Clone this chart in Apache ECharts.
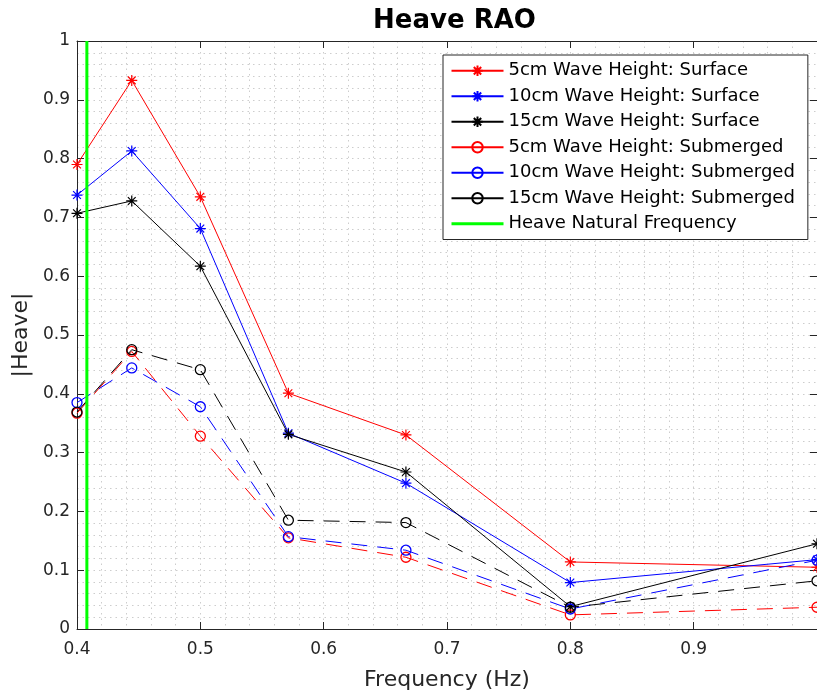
<!DOCTYPE html>
<html>
<head>
<meta charset="UTF-8">
<title>Heave RAO</title>
<script src="https://cdn.jsdelivr.net/npm/echarts@6/dist/echarts.min.js"></script>
<style>
  body { margin: 0; background: #fff; }
  #root { width: 817px; height: 698px; }
</style>
</head>
<body>
<div id="root"></div>
<script>
// frequencies (Hz) of the test runs
var freq = [0.4, 0.4444, 0.5, 0.5714, 0.6667, 0.8, 1.0];

// |Heave|
var surf5  = [0.790, 0.933, 0.735, 0.401, 0.330, 0.114, 0.105];
var surf10 = [0.738, 0.813, 0.681, 0.333, 0.248, 0.079, 0.118];
var surf15 = [0.707, 0.728, 0.617, 0.331, 0.267, 0.038, 0.145];
var sub5   = [0.367, 0.472, 0.328, 0.155, 0.122, 0.024, 0.037];
var sub10  = [0.385, 0.444, 0.378, 0.157, 0.134, 0.034, 0.117];
var sub15  = [0.369, 0.475, 0.441, 0.185, 0.181, 0.037, 0.082];

var natFreq = 0.408;

var names = [
  '5cm Wave Height: Surface',
  '10cm Wave Height: Surface',
  '15cm Wave Height: Surface',
  '5cm Wave Height: Submerged',
  '10cm Wave Height: Submerged',
  '15cm Wave Height: Submerged',
  'Heave Natural Frequency'
];

// matlab style '*' marker
var star = 'path://M6 0L6 12M0 6L12 6M1.76 1.76L10.24 10.24M10.24 1.76L1.76 10.24';

function pairs(ys) {
  return freq.map(function (f, i) { return [f, ys[i]]; });
}

function surface(name, ys, c) {
  return {
    name: name, type: 'line', data: pairs(ys),
    symbol: star, symbolSize: 11,
    itemStyle: { color: c, borderColor: c, borderWidth: 1.2 },
    lineStyle: { color: c, width: 1 },
    emphasis: { disabled: true }
  };
}

function submerged(name, ys, c) {
  return {
    name: name, type: 'line', data: pairs(ys),
    symbol: 'circle', symbolSize: 10,
    itemStyle: { color: 'rgba(0,0,0,0)', borderColor: c, borderWidth: 1.3 },
    lineStyle: { color: c, width: 1, type: [16, 10] },
    emphasis: { disabled: true }
  };
}

var axisCol = '#262626';
var gridLine = { show: true, lineStyle: { color: '#cdcdcd', type: [1.5, 4], width: 1 } };

var legendData = names.map(function (n, i) {
  // the green line has no marker in its legend entry
  return i === 6 ? { name: n, itemStyle: { opacity: 0 }, lineStyle: { width: 3 } } : n;
});

var chart = echarts.init(document.getElementById('root'));

chart.setOption({
  animation: false,
  textStyle: { fontFamily: 'DejaVu Sans' },
  title: {
    text: 'Heave RAO',
    left: 449.5, top: 3, textAlign: 'center',
    textStyle: { fontSize: 26, fontWeight: 'bold', color: '#000' }
  },
  grid: { left: 77, top: 41, width: 744, height: 588 },
  legend: {
    data: legendData,
    orient: 'vertical',
    left: 443, top: 55,
    itemWidth: 52, itemHeight: 13, itemGap: 6,
    padding: [6, 13, 6, 7],
    borderColor: axisCol, borderWidth: 1,
    backgroundColor: '#fff',
    selectedMode: false,
    lineStyle: { type: 'solid' },
    textStyle: { fontSize: 18, color: '#000', lineHeight: 19.5 }
  },
  xAxis: [{
    type: 'value', min: 0.4, max: 1.0, interval: 0.1,
    name: 'Frequency (Hz)', nameLocation: 'middle', nameGap: 40,
    nameTextStyle: { fontSize: 22, color: axisCol },
    axisLine: { onZero: false, lineStyle: { color: axisCol } },
    axisTick: { inside: true, length: 7, lineStyle: { color: axisCol } },
    axisLabel: { fontSize: 17, color: axisCol, margin: 12, showMaxLabel: false },
    splitLine: gridLine,
    minorTick: { show: false, splitNumber: 5 },
    minorSplitLine: gridLine
  }, {
    type: 'value', position: 'top', min: 0.4, max: 1.0, interval: 0.1,
    axisLine: { onZero: false, lineStyle: { color: axisCol } },
    axisTick: { inside: true, length: 7, lineStyle: { color: axisCol } },
    axisLabel: { show: false },
    splitLine: { show: false }
  }],
  yAxis: [{
    type: 'value', min: 0, max: 1, interval: 0.1,
    name: '|Heave|', nameLocation: 'middle', nameGap: 45,
    nameTextStyle: { fontSize: 22, color: axisCol },
    axisLine: { show: true, onZero: false, lineStyle: { color: axisCol } },
    axisTick: { show: true, inside: true, length: 7, lineStyle: { color: axisCol } },
    axisLabel: { fontSize: 17, color: axisCol, margin: 7 },
    splitLine: gridLine,
    minorTick: { show: false, splitNumber: 5 },
    minorSplitLine: gridLine
  }, {
    type: 'value', position: 'right', min: 0, max: 1, interval: 0.1,
    axisLine: { show: true, onZero: false, lineStyle: { color: axisCol } },
    axisTick: { show: true, inside: true, length: 7, lineStyle: { color: axisCol } },
    axisLabel: { show: false },
    splitLine: { show: false }
  }],
  series: [
    surface(names[0], surf5, '#ff0000'),
    surface(names[1], surf10, '#0000ff'),
    surface(names[2], surf15, '#000000'),
    submerged(names[3], sub5, '#ff0000'),
    submerged(names[4], sub10, '#0000ff'),
    submerged(names[5], sub15, '#000000'),
    {
      name: names[6], type: 'line',
      data: [[natFreq, 0], [natFreq, 1]],
      symbol: 'none',
      itemStyle: { color: '#00ff00' },
      lineStyle: { color: '#00ff00', width: 3 },
      emphasis: { disabled: true }
    }
  ]
});
</script>
</body>
</html>
